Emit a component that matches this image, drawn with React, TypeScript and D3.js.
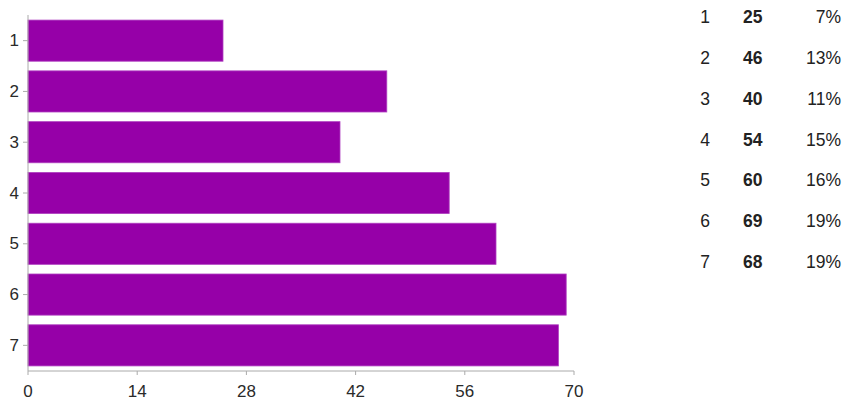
import React from "react";
import * as d3 from "d3";

const categories = ["1", "2", "3", "4", "5", "6", "7"];
const counts = [25, 46, 40, 54, 60, 69, 68];
const percents = ["7%", "13%", "11%", "15%", "16%", "19%", "19%"];
const xTicks = [0, 14, 28, 42, 56, 70];

const W = 844;
const H = 404;
const M = { left: 28, right: 270, top: 15, bottom: 33 };

export default function App() {
  const x = d3.scaleLinear().domain([0, 70]).range([M.left, 574]);
  const y = d3
    .scaleBand<string>()
    .domain(categories)
    .range([M.top, H - M.bottom])
    .paddingInner(0.19)
    .paddingOuter(0.1);
  const axisColor = "#aaa";
  const font = "'Liberation Sans', Arial, sans-serif";
  const rowY = d3.scaleLinear().domain([0, 6]).range([17, 262]);

  return (
    <svg
      width={W}
      height={H}
      style={{ position: "absolute", left: 0, top: 0, background: "#fff" }}
      fontFamily={font}
    >
      {categories.map((c, i) => (
        <rect
          key={c}
          x={x(0)}
          y={y(c)!}
          width={x(counts[i]) - x(0)}
          height={y.bandwidth()}
          fill="#9600a8"
          stroke="#b040c0"
          strokeWidth={0.8}
        />
      ))}
      {/* axes */}
      <line x1={x(0)} x2={x(0)} y1={M.top} y2={H - M.bottom} stroke={axisColor} strokeWidth={1} />
      <line x1={x(0)} x2={x(70)} y1={H - M.bottom} y2={H - M.bottom} stroke={axisColor} strokeWidth={1} />
      {categories.map((c) => {
        const cy = y(c)! + y.bandwidth() / 2;
        return (
          <g key={"yt" + c}>
            <line x1={x(0) - 5} x2={x(0)} y1={cy} y2={cy} stroke={axisColor} />
            <text x={x(0) - 9} y={cy} textAnchor="end" dominantBaseline="central" fontSize={17} fill="#2a2a2a">
              {c}
            </text>
          </g>
        );
      })}
      {xTicks.map((t) => (
        <g key={"xt" + t}>
          <line x1={x(t)} x2={x(t)} y1={H - M.bottom} y2={H - M.bottom + 4} stroke={axisColor} />
          <text x={x(t)} y={H - M.bottom + 20} textAnchor="middle" dominantBaseline="central" fontSize={17} fill="#2a2a2a">
            {t}
          </text>
        </g>
      ))}
      {/* table */}
      {categories.map((c, i) => (
        <g key={"row" + c} fontSize={17.5} fill="#222">
          <text x={705} y={rowY(i)} textAnchor="middle" dominantBaseline="central">
            {c}
          </text>
          <text x={743} y={rowY(i)} fontWeight="bold" dominantBaseline="central">
            {counts[i]}
          </text>
          <text x={841} y={rowY(i)} textAnchor="end" dominantBaseline="central">
            {percents[i]}
          </text>
        </g>
      ))}
    </svg>
  );
}
